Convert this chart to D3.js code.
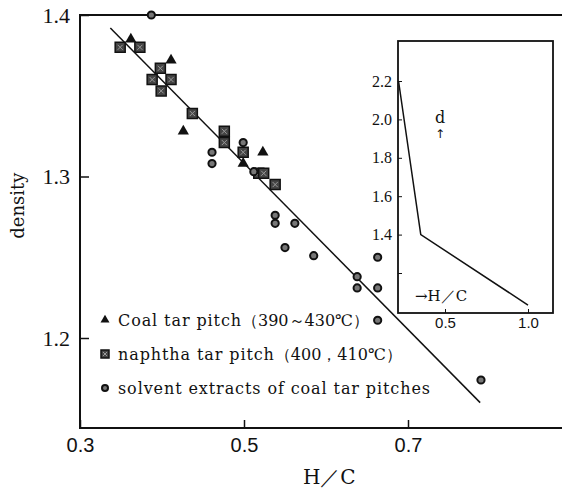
<!DOCTYPE html>
<html>
<head>
<meta charset="utf-8">
<script src="https://cdn.jsdelivr.net/npm/d3@7"></script>
<style>
  body { margin: 0; background: #fff; }
  svg { display: block; }
</style>
</head>
<body>
<svg id="chart" width="562" height="488"></svg>
<script>
// coal tar pitch (triangles)
const coalHC = [0.362, 0.411, 0.426, 0.523, 0.499];
const coalDensity = [1.385, 1.372, 1.328, 1.315, 1.308];

// naphtha tar pitch (squares)
const naphthaHC = [0.349, 0.373, 0.398, 0.388, 0.411, 0.399, 0.437, 0.476, 0.476, 0.499, 0.518, 0.524, 0.538];
const naphthaDensity = [1.380, 1.380, 1.367, 1.360, 1.360, 1.353, 1.339, 1.328, 1.321, 1.315, 1.302, 1.302, 1.295];

// solvent extracts (circles)
const solventHC = [0.387, 0.461, 0.461, 0.499, 0.512, 0.538, 0.538, 0.562, 0.550, 0.585, 0.638, 0.638, 0.663, 0.663, 0.663, 0.789];
const solventDensity = [1.400, 1.315, 1.308, 1.321, 1.303, 1.276, 1.271, 1.271, 1.256, 1.251, 1.238, 1.231, 1.250, 1.231, 1.211, 1.174];

// fitted line
const fitHC = [0.337, 0.788];
const fitDensity = [1.392, 1.160];

// inset curve
const insetHC = [0.22, 0.354, 1.0];
const insetDensity = [2.2, 1.40, 1.033];

const xTicks = [0.3, 0.5, 0.7];
const yTicks = [1.2, 1.3, 1.4];
const insetXTicks = [0.5, 1.0];
const insetYTicks = [1.2, 1.4, 1.6, 1.8, 2.0, 2.2];
const insetYLabels = [1.4, 1.6, 1.8, 2.0, 2.2];

const legendItems = [
    {shape: "triangle", label: "Coal tar pitch", note: "（390～430℃）"},
    {shape: "square", label: "naphtha tar pitch", note: "（400，410℃）"},
    {shape: "circle", label: "solvent extracts of coal tar pitches", note: ""}
];

let svg = d3.select("#chart");

let x = d3.scaleLinear().domain([0.3, 0.7]).range([80, 408]);
let y = d3.scaleLinear().domain([1.2, 1.4]).range([338, 15]);
let xMax = x.invert(562);
let yMin = y.invert(428);

// frame: left, top, bottom
let frame = svg.append("g").attr("stroke", "#111").attr("stroke-width", 2).attr("fill", "none");
frame.append("path")
    .attr("d", d3.line()([[x(xMax), y(1.4)], [x(0.3), y(1.4)], [x(0.3), y(yMin)], [x(xMax), y(yMin)]]));

let yAxis = svg.append("g")
    .attr("transform", `translate(${x(0.3)},0)`)
    .call(d3.axisLeft(y).tickValues(yTicks).tickSize(-9).tickPadding(10).tickFormat(d3.format(".1f")));
yAxis.select(".domain").remove();
yAxis.selectAll("line").attr("stroke", "#111").attr("stroke-width", 1.5);
yAxis.selectAll("text").attr("font-family", "Liberation Serif").attr("font-size", 22).attr("fill", "#111");

let xAxis = svg.append("g")
    .attr("transform", `translate(0,${y(yMin)})`)
    .call(d3.axisBottom(x).tickValues(xTicks).tickSize(-8).tickPadding(10).tickFormat(d3.format(".1f")));
xAxis.select(".domain").remove();
xAxis.selectAll("line").attr("stroke", "#111").attr("stroke-width", 1.5);
xAxis.selectAll("text").attr("font-family", "Liberation Sans").attr("font-size", 20).attr("fill", "#111");

svg.append("text")
    .attr("transform", `translate(24,${y(1.282)}) rotate(-90)`)
    .attr("text-anchor", "middle")
    .attr("font-family", "DejaVu Serif")
    .attr("font-size", 18)
    .attr("fill", "#111")
    .text("density");

svg.append("text")
    .attr("x", x(0.604))
    .attr("y", 484)
    .attr("text-anchor", "middle")
    .attr("font-family", "DejaVu Serif")
    .attr("font-size", 20)
    .attr("fill", "#111")
    .text("H／C");

// fitted line
svg.append("path")
    .datum(fitHC.map((d, i) => [d, fitDensity[i]]))
    .attr("fill", "none")
    .attr("stroke", "#111")
    .attr("stroke-width", 1.5)
    .attr("d", d3.line().x(d => x(d[0])).y(d => y(d[1])));

let tri = d3.symbol().type(d3.symbolTriangle);
let sq = d3.symbol().type(d3.symbolSquare);

function drawTriangle(g, cx, cy, size) {
    g.append("path")
        .attr("transform", `translate(${cx},${cy})`)
        .attr("d", tri.size(size)())
        .attr("fill", "#111");
}
function drawSquare(g, cx, cy, size) {
    let s = Math.sqrt(size) / 2;
    g.append("path")
        .attr("transform", `translate(${cx},${cy})`)
        .attr("d", sq.size(size)())
        .attr("fill", "#444")
        .attr("stroke", "#111")
        .attr("stroke-width", 1.5);
    g.append("path")
        .attr("transform", `translate(${cx},${cy})`)
        .attr("d", `M${-s / 2},${-s / 2}L${s / 2},${s / 2}M${s / 2},${-s / 2}L${-s / 2},${s / 2}`)
        .attr("stroke", "#999")
        .attr("stroke-width", 1);
}
function drawCircle(g, cx, cy, r) {
    g.append("circle")
        .attr("cx", cx).attr("cy", cy).attr("r", r)
        .attr("fill", "#777")
        .attr("stroke", "#111")
        .attr("stroke-width", 2);
}

let marks = svg.append("g");
naphthaHC.forEach((d, i) => drawSquare(marks, x(d), y(naphthaDensity[i]), 100));
solventHC.forEach((d, i) => drawCircle(marks, x(d), y(solventDensity[i]), 3.6));
coalHC.forEach((d, i) => drawTriangle(marks, x(d), y(coalDensity[i]), 55));

// legend
let legend = svg.append("g");
legendItems.forEach((item, i) => {
    let cy = 320 + i * 34;
    if (item.shape === "triangle") drawTriangle(legend, 105, cy, 35);
    if (item.shape === "square") drawSquare(legend, 105, cy, 64);
    if (item.shape === "circle") drawCircle(legend, 105, cy, 3);
    let t = legend.append("text")
        .attr("x", 118)
        .attr("y", cy + 6)
        .attr("font-family", "DejaVu Serif")
        .attr("font-size", 16)
        .attr("fill", "#111");
    t.append("tspan").attr("letter-spacing", 0.9).text(item.label);
    if (item.note) t.append("tspan").attr("letter-spacing", 0).text(item.note);
});

// inset
let ix = d3.scaleLinear().domain([0.5, 1.0]).range([445, 528]);
let iy = d3.scaleLinear().domain([1.2, 2.2]).range([273, 81]);
let inset = svg.append("g");
inset.append("rect")
    .attr("x", 398)
    .attr("y", 41)
    .attr("width", 553 - 398)
    .attr("height", 313 - 41)
    .attr("fill", "#fff")
    .attr("stroke", "#111")
    .attr("stroke-width", 1.8);

let iyAxis = inset.append("g")
    .attr("transform", "translate(398,0)")
    .call(d3.axisLeft(iy).tickValues(insetYTicks).tickSize(-4).tickPadding(6)
        .tickFormat(d => insetYLabels.includes(d) ? d3.format(".1f")(d) : ""));
iyAxis.select(".domain").remove();
iyAxis.selectAll("line").attr("stroke", "#111");
iyAxis.selectAll("text").attr("font-family", "Liberation Serif").attr("font-size", 16).attr("fill", "#111");

let ixAxis = inset.append("g")
    .attr("transform", "translate(0,313)")
    .call(d3.axisBottom(ix).tickValues(insetXTicks).tickSize(-4).tickPadding(4).tickFormat(d3.format(".1f")));
ixAxis.select(".domain").remove();
ixAxis.selectAll("line").attr("stroke", "#111");
ixAxis.selectAll("text").attr("font-family", "Liberation Sans").attr("font-size", 15).attr("fill", "#111");

inset.append("path")
    .datum(insetHC.map((d, i) => [d, insetDensity[i]]))
    .attr("fill", "none")
    .attr("stroke", "#111")
    .attr("stroke-width", 1.5)
    .attr("d", d3.line().x(d => ix(d[0])).y(d => iy(d[1])));

inset.append("text")
    .attr("x", 440).attr("y", 123)
    .attr("text-anchor", "middle")
    .attr("font-family", "DejaVu Serif").attr("font-size", 16).attr("fill", "#111")
    .text("d");
inset.append("text")
    .attr("x", 440).attr("y", 138)
    .attr("text-anchor", "middle")
    .attr("font-family", "DejaVu Sans").attr("font-size", 12).attr("fill", "#111")
    .text("↑");
inset.append("text")
    .attr("x", 415).attr("y", 301)
    .attr("font-family", "DejaVu Serif").attr("font-size", 15).attr("fill", "#111")
    .text("→H／C");
</script>
</body>
</html>
